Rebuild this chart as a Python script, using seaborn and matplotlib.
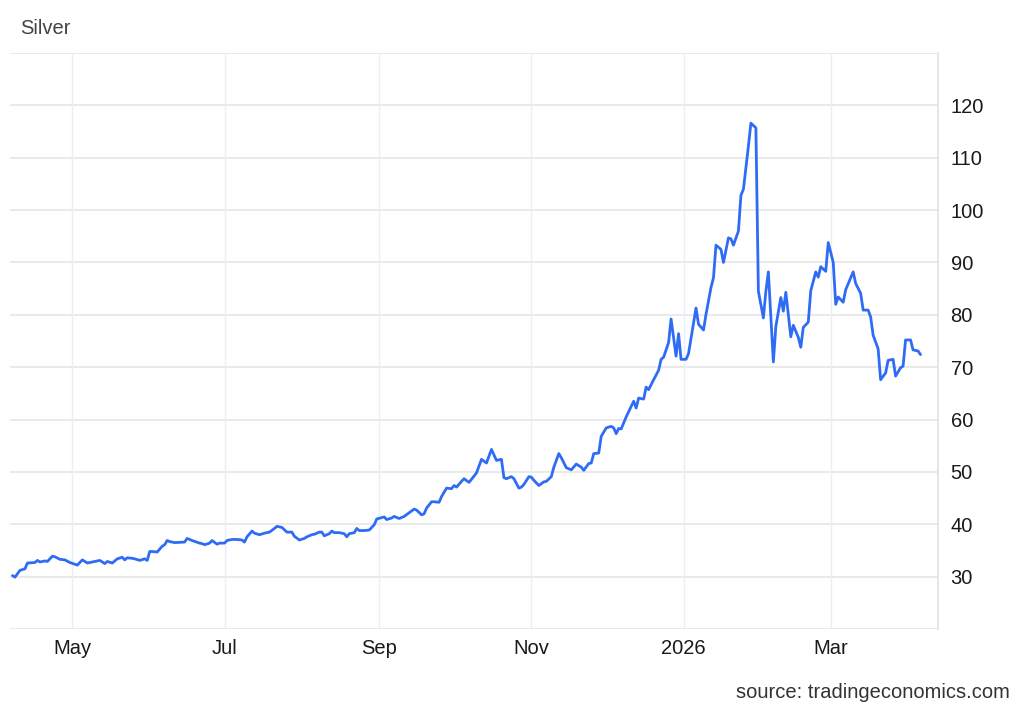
import pandas as pd
import seaborn as sns
import matplotlib.pyplot as plt
import matplotlib.dates as mdates
from matplotlib.ticker import FuncFormatter


# silver price
dates = [
    '2025-04-07', '2025-04-08', '2025-04-10', '2025-04-12', '2025-04-13', '2025-04-16',
    '2025-04-17', '2025-04-18', '2025-04-20', '2025-04-21', '2025-04-23', '2025-04-24',
    '2025-04-26', '2025-04-28', '2025-04-30', '2025-05-03', '2025-05-05', '2025-05-07',
    '2025-05-08', '2025-05-10', '2025-05-12', '2025-05-14', '2025-05-15', '2025-05-17',
    '2025-05-19', '2025-05-21', '2025-05-22', '2025-05-23', '2025-05-25', '2025-05-26',
    '2025-05-28', '2025-05-30', '2025-05-31', '2025-06-01', '2025-06-02', '2025-06-04',
    '2025-06-06', '2025-06-07', '2025-06-08', '2025-06-09', '2025-06-11', '2025-06-15',
    '2025-06-16', '2025-06-18', '2025-06-21', '2025-06-22', '2025-06-23', '2025-06-25',
    '2025-06-26', '2025-06-28', '2025-06-29', '2025-07-01', '2025-07-02', '2025-07-04',
    '2025-07-06', '2025-07-08', '2025-07-09', '2025-07-10', '2025-07-12', '2025-07-13',
    '2025-07-15', '2025-07-17', '2025-07-19', '2025-07-21', '2025-07-22', '2025-07-24',
    '2025-07-26', '2025-07-28', '2025-07-29', '2025-07-31', '2025-08-02', '2025-08-03',
    '2025-08-05', '2025-08-06', '2025-08-08', '2025-08-09', '2025-08-10', '2025-08-12',
    '2025-08-13', '2025-08-14', '2025-08-16', '2025-08-18', '2025-08-19', '2025-08-20',
    '2025-08-22', '2025-08-23', '2025-08-24', '2025-08-26', '2025-08-28', '2025-08-30',
    '2025-08-31', '2025-09-03', '2025-09-04', '2025-09-06', '2025-09-07', '2025-09-09',
    '2025-09-11', '2025-09-13', '2025-09-15', '2025-09-16', '2025-09-18', '2025-09-19',
    '2025-09-20', '2025-09-22', '2025-09-23', '2025-09-25', '2025-09-26', '2025-09-28',
    '2025-09-30', '2025-10-01', '2025-10-02', '2025-10-04', '2025-10-05', '2025-10-07',
    '2025-10-09', '2025-10-10', '2025-10-12', '2025-10-14', '2025-10-16', '2025-10-18',
    '2025-10-20', '2025-10-21', '2025-10-22', '2025-10-24', '2025-10-25', '2025-10-27',
    '2025-10-28', '2025-10-29', '2025-10-31', '2025-11-01', '2025-11-02', '2025-11-04',
    '2025-11-06', '2025-11-07', '2025-11-09', '2025-11-10', '2025-11-12', '2025-11-13',
    '2025-11-15', '2025-11-17', '2025-11-19', '2025-11-21', '2025-11-22', '2025-11-24',
    '2025-11-25', '2025-11-26', '2025-11-28', '2025-11-29', '2025-12-01', '2025-12-03',
    '2025-12-04', '2025-12-05', '2025-12-06', '2025-12-07', '2025-12-09', '2025-12-10',
    '2025-12-12', '2025-12-13', '2025-12-14', '2025-12-16', '2025-12-17', '2025-12-18',
    '2025-12-20', '2025-12-22', '2025-12-23', '2025-12-24', '2025-12-26', '2025-12-27',
    '2025-12-29', '2025-12-30', '2025-12-31', '2026-01-02', '2026-01-03', '2026-01-06',
    '2026-01-07', '2026-01-09', '2026-01-10', '2026-01-12', '2026-01-13', '2026-01-14',
    '2026-01-16', '2026-01-17', '2026-01-19', '2026-01-20', '2026-01-21', '2026-01-23',
    '2026-01-24', '2026-01-25', '2026-01-27', '2026-01-28', '2026-01-30', '2026-01-31',
    '2026-02-02', '2026-02-03', '2026-02-04', '2026-02-06', '2026-02-07', '2026-02-09',
    '2026-02-10', '2026-02-11', '2026-02-13', '2026-02-14', '2026-02-16', '2026-02-17',
    '2026-02-18', '2026-02-20', '2026-02-21', '2026-02-23', '2026-02-24', '2026-02-25',
    '2026-02-27', '2026-02-28', '2026-03-02', '2026-03-03', '2026-03-04', '2026-03-06',
    '2026-03-07', '2026-03-09', '2026-03-10', '2026-03-11', '2026-03-13', '2026-03-14',
    '2026-03-16', '2026-03-17', '2026-03-18', '2026-03-20', '2026-03-21', '2026-03-23',
    '2026-03-24', '2026-03-26', '2026-03-27', '2026-03-29', '2026-03-30', '2026-03-31',
    '2026-04-02', '2026-04-03', '2026-04-05', '2026-04-06',
]

prices = [
    30.2, 29.9, 31.2, 31.5, 32.6, 32.7, 33.1, 32.8, 33.0, 32.9, 33.9, 33.8,
    33.3, 33.2, 32.7, 32.2, 33.2, 32.6, 32.7, 32.9, 33.1, 32.5, 32.9, 32.6,
    33.4, 33.7, 33.2, 33.6, 33.5, 33.4, 33.1, 33.4, 33.1, 34.8, 34.8, 34.7,
    35.8, 36.1, 36.9, 36.7, 36.5, 36.6, 37.3, 36.9, 36.4, 36.3, 36.1, 36.4,
    36.9, 36.2, 36.4, 36.4, 36.9, 37.1, 37.1, 37.0, 36.6, 37.6, 38.7, 38.3,
    38.0, 38.3, 38.5, 39.2, 39.6, 39.4, 38.5, 38.5, 37.7, 37.0, 37.3, 37.6,
    38.0, 38.1, 38.5, 38.5, 37.8, 38.2, 38.7, 38.4, 38.4, 38.2, 37.6, 38.2,
    38.4, 39.2, 38.8, 38.8, 38.9, 39.9, 41.0, 41.4, 40.9, 41.2, 41.5, 41.1,
    41.5, 42.2, 42.9, 42.7, 41.8, 42.0, 43.1, 44.3, 44.3, 44.2, 45.3, 46.9,
    46.8, 47.4, 47.1, 48.2, 48.7, 48.0, 49.2, 49.8, 52.4, 51.7, 54.3, 52.2,
    52.4, 48.9, 48.7, 49.1, 48.7, 46.9, 47.1, 47.6, 49.1, 49.0, 48.4, 47.4,
    48.1, 48.2, 49.1, 50.9, 53.5, 52.7, 50.8, 50.4, 51.5, 50.9, 50.3, 51.6,
    51.7, 53.5, 53.6, 56.8, 58.4, 58.7, 58.4, 57.3, 58.3, 58.2, 60.5, 61.5,
    63.5, 62.2, 64.1, 63.9, 66.2, 65.7, 67.6, 69.4, 71.5, 71.9, 74.7, 79.2,
    72.1, 76.4, 71.5, 71.5, 72.6, 81.3, 78.2, 77.1, 80.1, 85.2, 87.1, 93.3,
    92.5, 90.0, 94.7, 94.5, 93.3, 96.0, 102.8, 104.0, 112.2, 116.6, 115.7, 84.5,
    79.4, 84.5, 88.2, 71.0, 77.8, 83.3, 80.7, 84.3, 75.8, 78.0, 75.7, 73.8,
    77.6, 78.6, 84.6, 88.2, 87.2, 89.2, 88.3, 93.8, 90.0, 82.0, 83.4, 82.4,
    84.8, 87.1, 88.2, 86.0, 84.1, 80.9, 80.9, 79.6, 76.1, 73.5, 67.6, 68.9,
    71.3, 71.5, 68.3, 69.9, 70.2, 75.2, 75.2, 73.3, 73.1, 72.4,
]

y_ticks = [30, 40, 50, 60, 70, 80, 90, 100, 110, 120]
y_grid = [20, 30, 40, 50, 60, 70, 80, 90, 100, 110, 120, 130]

df = pd.DataFrame({'date': pd.to_datetime(dates), 'price': prices})

sns.set_theme(style='white')
plt.rcParams['font.family'] = ['Liberation Sans', 'DejaVu Sans']

fig = plt.figure(figsize=(10.24, 7.10), dpi=100)
ax = fig.add_axes([10 / 1024, 1 - 629 / 710, 928 / 1024, 576 / 710])

# grid lines drawn by hand so horizontal and vertical can differ
for v in y_grid:
    ax.axhline(v, color='#e6e6e6', lw=1.2, zorder=0)

sns.lineplot(data=df, x='date', y='price', color='#2f6cf5', linewidth=2.0, ax=ax, zorder=3)

ax.set_xlim(pd.Timestamp('2025-04-06'), pd.Timestamp('2026-04-13'))
ax.set_ylim(20, 130)

ax.xaxis.set_major_locator(mdates.MonthLocator(bymonth=[1, 3, 5, 7, 9, 11]))
ax.xaxis.set_major_formatter(
    FuncFormatter(lambda x, pos: mdates.num2date(x).strftime('%Y' if mdates.num2date(x).month == 1 else '%b'))
)
ax.grid(axis='x', color='#e8eff7', lw=1.0)
ax.set_axisbelow(True)

ax.yaxis.tick_right()
ax.set_yticks(y_ticks)
ax.tick_params(axis='y', length=0, pad=9, labelsize=14.5, labelcolor='#1a1a1a')
ax.tick_params(axis='x', length=0, pad=7, labelsize=14.5, labelcolor='#1a1a1a')

ax.set_xlabel('')
ax.set_ylabel('')
for s in ['top', 'left', 'bottom']:
    ax.spines[s].set_visible(False)
ax.spines['right'].set_color('#e0e0e0')
ax.spines['right'].set_linewidth(1.2)

fig.text(20 / 1024, 1 - 28 / 710, 'Silver', fontsize=14.5, color='#444444', va='center', ha='left')
fig.text(1010 / 1024, 1 - 692 / 710, 'source: tradingeconomics.com', fontsize=14.5,
         color='#333333', va='center', ha='right')

fig.savefig('out.png', dpi=100)
